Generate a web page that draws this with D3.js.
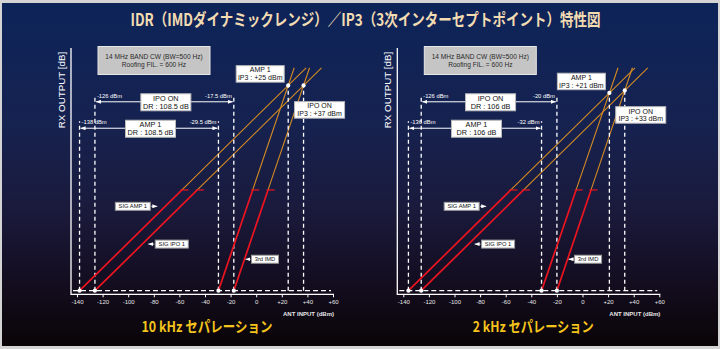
<!DOCTYPE html>
<html><head><meta charset="utf-8">
<script src="https://cdn.jsdelivr.net/npm/d3@7"></script>
<style>html,body{margin:0;padding:0;background:#000;} svg{display:block;}</style>
</head><body>
<script>
// ---- data ----
const titleText = "IDR（IMDダイナミックレンジ）／IP3（3次インターセプトポイント）特性図";
const panelTitles = ["10 kHz セパレーション", "2 kHz セパレーション"];
const xTicks = [-140, -120, -100, -80, -60, -40, -20, 0, 20, 40, 60];
const xTickLabels = ["-140", "-120", "-100", "-80", "-60", "-40", "-20", "0", "+20", "+40", "+60"];
const ampFloor = [-138, -136];       // AMP 1 noise floor (dBm)
const ipoFloor = [-126, -126];       // IPO ON noise floor (dBm)
const ampImdStart = [-29.5, -32];    // AMP 1 IMD = floor input (dBm)
const ipoImdStart = [-17.5, -20];    // IPO ON IMD = floor input (dBm)
const ampIP3 = [25, 21];             // dBm
const ipoIP3 = [37, 33];             // dBm
const ampDR = [108.5, 106];          // dB
const ipoDR = [108.5, 106];          // dB
const infoLines = ["14 MHz BAND CW (BW=500 Hz)", "Roofing FIL. = 600 Hz"];
const seriesNames = ["SIG AMP 1", "SIG IPO 1", "3rd IMD"];
const yAxisTitle = "RX OUTPUT [dB]";
const xAxisTitle = "ANT INPUT (dBm)";

// ---- layout ----
const W = 720, H = 349;
const panelX0 = [71, 397.3];
const floorY = 290.7, axisY = 294.3;
const redTopLevel = 80, lineTopLevel = 177;
const bracketLevelIPO = 150, bracketLevelAMP = 129;
const labelLevels = [67, 37, 25];
const RED = "#ec1420", ORANGE = "#d48a22";
const FONT = "'Liberation Sans', Arial, sans-serif";
const CJK = "'Noto Sans CJK JP', 'Noto Sans', sans-serif";

const svg = d3.select("body").append("svg").attr("width", W).attr("height", H);
const defs = svg.append("defs");
const grad = defs.append("linearGradient").attr("id", "bg").attr("x1", 0).attr("y1", 0).attr("x2", 0).attr("y2", 1);
[["0", "#0d2459"], ["0.35", "#162250"], ["0.6", "#1a1a3c"], ["0.8", "#140e22"], ["1", "#0a0407"]]
  .forEach(([o, c]) => grad.append("stop").attr("offset", o).attr("stop-color", c));
defs.append("marker").attr("id", "ah").attr("viewBox", "0 0 5 4").attr("refX", 5).attr("refY", 2)
  .attr("markerUnits", "userSpaceOnUse").attr("markerWidth", 5).attr("markerHeight", 4)
  .attr("orient", "auto-start-reverse")
  .append("path").attr("d", "M0,0L5,2L0,4Z").attr("fill", "#fff");

svg.append("rect").attr("width", W).attr("height", H).attr("fill", "#d4d4d4");
svg.append("rect").attr("x", 2).attr("y", 3).attr("width", W - 4).attr("height", H - 6).attr("fill", "url(#bg)");

svg.append("text").attr("x", 365.5).attr("y", 26).attr("text-anchor", "middle")
  .attr("font-family", CJK).attr("font-weight", 700).attr("font-size", 16.5)
  .attr("fill", "#f3dcb2").attr("textLength", 470).attr("lengthAdjust", "spacingAndGlyphs")
  .text(titleText);

function box(g, cx, cy, w, h, lines, size, fill, textFill, stroke) {
  g.append("rect").attr("x", cx - w / 2).attr("y", cy - h / 2).attr("width", w).attr("height", h)
    .attr("fill", fill).attr("stroke", stroke || "none").attr("stroke-width", 1);
  const n = lines.length, lh = size * 1.12;
  lines.forEach((t, i) => {
    g.append("text").attr("x", cx).attr("y", cy + (i - (n - 1) / 2) * lh)
      .attr("text-anchor", "middle").attr("dominant-baseline", "central")
      .attr("font-family", FONT).attr("font-size", size).attr("fill", textFill).text(t);
  });
}

for (let p = 0; p < 2; p++) {
  const x0 = panelX0[p];
  const xs = d3.scaleLinear().domain([-140, 60]).range([x0 + 6, x0 + 262]);
  const ys = d3.scaleLinear().domain([0, 180]).range([floorY, 64]);
  const g = svg.append("g");

  // y-axis
  g.append("line").attr("x1", x0).attr("x2", x0).attr("y1", 48).attr("y2", axisY + 0.6)
    .attr("stroke", "#fff").attr("stroke-width", 1.3);
  g.append("text").attr("transform", `translate(${x0 - 6},90) rotate(-90)`)
    .attr("text-anchor", "middle").attr("font-family", FONT).attr("font-size", 9.8)
    .attr("fill", "#fff").text(yAxisTitle);

  // x-axis
  const ax = g.append("g").attr("transform", `translate(0,${axisY})`)
    .call(d3.axisBottom(xs).tickValues(xTicks).tickFormat((d, i) => xTickLabels[i]).tickSize(3).tickPadding(2));
  ax.select(".domain").remove();
  ax.selectAll(".tick line").attr("stroke", "#fff").attr("stroke-width", 1);
  ax.selectAll(".tick text").attr("fill", "#e6e6e6").attr("font-size", 6).attr("font-family", FONT);
  g.append("line").attr("x1", x0).attr("x2", xs(60) + 1).attr("y1", axisY).attr("y2", axisY)
    .attr("stroke", "#fff").attr("stroke-width", 1.3);
  g.append("text").attr("x", xs(60) + 1).attr("y", 316).attr("text-anchor", "end")
    .attr("font-family", FONT).attr("font-size", 6).attr("font-weight", 700).attr("fill", "#e6e6e6")
    .text(xAxisTitle);

  // floor dashed line
  g.append("line").attr("x1", x0 + 2).attr("x2", xs(60) - 2).attr("y1", floorY).attr("y2", floorY)
    .attr("stroke", "#fff").attr("stroke-width", 1.3).attr("stroke-dasharray", "5,3");

  const yIPO = ys(bracketLevelIPO), yAMP = ys(bracketLevelAMP);
  const dash = (xv, yTop) => g.append("line").attr("x1", xs(xv)).attr("x2", xs(xv))
    .attr("y1", floorY).attr("y2", yTop).attr("stroke", "#fff").attr("stroke-width", 1.3)
    .attr("stroke-dasharray", "4,3");

  // lines
  const lines = [
    { start: ampFloor[p], ip3: ampIP3[p], lvl: ampIP3[p] - ampFloor[p] },
    { start: ipoFloor[p], ip3: ipoIP3[p], lvl: ipoIP3[p] - ipoFloor[p] },
    { start: ampImdStart[p], ip3: ampIP3[p], lvl: ampIP3[p] - ampFloor[p] },
    { start: ipoImdStart[p], ip3: ipoIP3[p], lvl: ipoIP3[p] - ipoFloor[p] },
  ];
  const xAt = (L, lv) => L.start + lv * (L.ip3 - L.start) / L.lvl;
  const lineGen = d3.line().x(d => xs(d[0])).y(d => ys(d[1]));
  lines.forEach(L => {
    g.append("path").attr("d", lineGen([[xAt(L, redTopLevel), redTopLevel], [xAt(L, lineTopLevel), lineTopLevel]]))
      .attr("stroke", ORANGE).attr("stroke-width", 1.1).attr("fill", "none");
  });

  // dashed verticals
  dash(ampFloor[p], yAMP - 7);
  dash(ampImdStart[p], yAMP - 7);
  dash(ipoFloor[p], yIPO - 7);
  dash(ipoImdStart[p], yIPO - 7);
  dash(ampIP3[p], ys(ampIP3[p] - ampFloor[p]));
  dash(ipoIP3[p], ys(ipoIP3[p] - ipoFloor[p]));

  lines.forEach(L => {
    g.append("path").attr("d", lineGen([[L.start, 0], [xAt(L, redTopLevel), redTopLevel]]))
      .attr("stroke", RED).attr("stroke-width", 1.7).attr("fill", "none");
    const tx = xs(xAt(L, redTopLevel)), ty = ys(redTopLevel);
    g.append("line").attr("x1", tx - 1.5).attr("x2", tx + 6.5).attr("y1", ty).attr("y2", ty)
      .attr("stroke", RED).attr("stroke-width", 1.2);
  });

  // dots
  [ampFloor[p], ipoFloor[p], ampImdStart[p], ipoImdStart[p]].forEach(v =>
    g.append("circle").attr("cx", xs(v)).attr("cy", floorY).attr("r", 2.1).attr("fill", "#fff"));
  [[ampIP3[p], ampIP3[p] - ampFloor[p]], [ipoIP3[p], ipoIP3[p] - ipoFloor[p]]].forEach(([xv, lv]) =>
    g.append("circle").attr("cx", xs(xv)).attr("cy", ys(lv)).attr("r", 2.1).attr("fill", "#fff"));

  // brackets
  const bracket = (a, b, y, la, lb, title, dr) => {
    g.append("line").attr("x1", xs(a) + 1).attr("x2", xs(b) - 1).attr("y1", y).attr("y2", y)
      .attr("stroke", "#fff").attr("stroke-width", 1)
      .attr("marker-start", "url(#ah)").attr("marker-end", "url(#ah)");
    g.append("text").attr("x", xs(a) + 2).attr("y", y - 4).attr("font-family", FONT)
      .attr("font-size", 5.8).attr("fill", "#fff").text(la);
    g.append("text").attr("x", xs(b) - 2).attr("y", y - 4).attr("text-anchor", "end").attr("font-family", FONT)
      .attr("font-size", 5.8).attr("fill", "#fff").text(lb);
    box(g, (xs(a) + xs(b)) / 2 + 1.5, y + 0.5, 50, 17, [title, `DR : ${dr} dB`], 7.3, "#fff", "#111", "#bbb");
  };
  bracket(ipoFloor[p], ipoImdStart[p], yIPO, `${ipoFloor[p]} dBm`, `${ipoImdStart[p]} dBm`, "IPO ON", ipoDR[p]);
  bracket(ampFloor[p], ampImdStart[p], yAMP, `${ampFloor[p]} dBm`, `${ampImdStart[p]} dBm`, "AMP 1", ampDR[p]);

  // info box
  box(g, x0 + 27 + 56, 60.5, 112, 28, infoLines, 6.6, "#c5c5c5", "#2a2a2a", "#e6e6e6");

  // IP3 boxes
  const ax3 = xs(ampIP3[p]), ay3 = ys(ampIP3[p] - ampFloor[p]);
  box(g, ax3 - 4 - 24, ay3 - 3 - 8.5, 48, 16.5, ["AMP 1", `IP3 : +${ampIP3[p]} dBm`], 7, "#fff", "#111", "#bbb");
  const ix3 = xs(ipoIP3[p]), iy3 = ys(ipoIP3[p] - ipoFloor[p]);
  box(g, ix3 - 9 + 25, iy3 + 16 + 8.5, 50, 16.5, ["IPO ON", `IP3 : +${ipoIP3[p]} dBm`], 7, "#fff", "#111", "#bbb");

  // series labels
  const arrowLine = (x1, x2, y) => g.append("line").attr("x1", x1).attr("x2", x2).attr("y1", y).attr("y2", y)
    .attr("stroke", "#fff").attr("stroke-width", 0.8).attr("marker-end", "url(#ah)");
  {
    const lv = labelLevels[0], y = ys(lv), tip = xs(xAt(lines[0], lv)) - 8;
    arrowLine(tip - 6, tip, y);
    box(g, tip - 7 - 17.5, y, 35, 8, [seriesNames[0]], 5.8, "#fff", "#111", "#999");
  }
  {
    const lv = labelLevels[1], y = ys(lv), tip = xs(xAt(lines[1], lv)) + 6;
    arrowLine(tip + 6, tip, y);
    box(g, tip + 7 + 16.5, y, 33, 8, [seriesNames[1]], 5.8, "#fff", "#111", "#999");
  }
  {
    const lv = labelLevels[2], y = ys(lv), tip = xs(xAt(lines[3], lv)) + 1;
    arrowLine(tip + 5, tip, y);
    box(g, tip + 6 + 13.5, y, 27, 8, [seriesNames[2]], 5.8, "#fff", "#111", "#999");
  }

  // panel subtitle
  g.append("text").attr("x", x0 + 136).attr("y", 331.5).attr("text-anchor", "middle")
    .attr("font-family", CJK).attr("font-weight", 700).attr("font-size", 14.5).attr("fill", "#f4c41c")
    .attr("textLength", p === 0 ? 131 : 121).attr("lengthAdjust", "spacingAndGlyphs")
    .text(panelTitles[p]);
}
</script>
</body></html>
